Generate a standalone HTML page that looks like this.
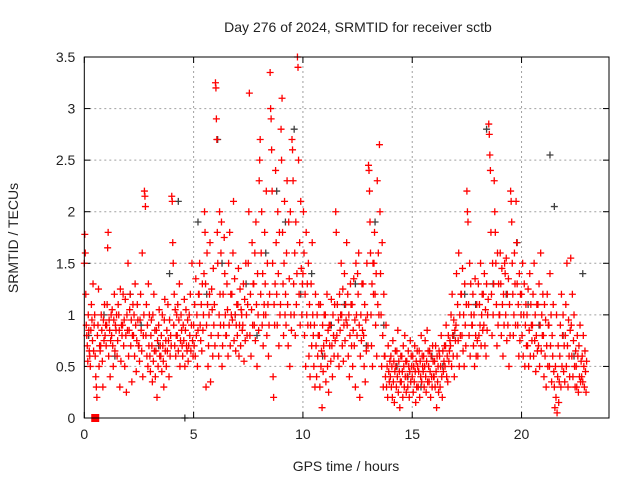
<!DOCTYPE html>
<html><head><meta charset="utf-8"><style>
body{margin:0;background:#fff;font-family:"Liberation Sans",sans-serif}
svg{display:block}
text{font-family:"Liberation Sans",sans-serif;font-size:14px;fill:#222}
</style></head><body>
<svg id="c" width="640" height="480"></svg>
<script>
const xTicks=[0,5,10,15,20];
const yTicks=[0,0.5,1,1.5,2,2.5,3,3.5];
const yTickLabels=["0","0.5","1","1.5","2","2.5","3","3.5"];
const redBinStart=[0,0.25,0.5,0.75,1,1.25,1.5,1.75,2,2.25,2.5,2.75,3,3.25,3.5,3.75,4,4.25,4.5,4.75,5,5.25,5.5,5.75,6,6.25,6.5,6.75,7,7.25,7.5,7.75,8,8.25,8.5,8.75,9,9.25,9.5,9.75,10,10.25,10.5,10.75,11,11.25,11.5,11.75,12,12.25,12.5,12.75,13,13.25,13.5,13.75,14,14.25,14.5,14.75,15,15.25,15.5,15.75,16,16.25,16.5,16.75,17,17.25,17.5,17.75,18,18.25,18.5,18.75,19,19.25,19.5,19.75,20,20.25,20.5,20.75,21,21.25,21.5,21.75,22,22.25,22.5,22.75];
const redValues=[
[1.5,1.78,1.6,1.2,0.9,0.8,0.7,0.55,1.0,0.85,0.65],
[0.6,0.5,0.85,1.1,0.95,0.75,1.3,0.65,0.9,1.0],
[0.6,0.4,0.3,0.2,0.8,0.9,1.25,0.5,0.7,0.65],
[0.7,1.0,0.85,0.55,0.3,0.95,0.75,1.1,0.8,0.9],
[0.7,0.9,1.1,1.65,1.8,0.6,0.95,0.85,0.4,0.75,1.0],
[0.8,1.05,0.7,0.5,0.95,1.2,0.65,0.9,0.85,1.0],
[0.6,0.75,1.1,1.0,0.85,0.3,1.25,0.55,0.9,0.8],
[0.9,1.2,0.7,0.95,0.5,1.15,0.8,0.25,1.0,0.85],
[1.5,0.6,0.85,1.05,1.2,0.7,0.95,0.35,0.8,1.1],
[0.8,1.0,0.6,1.3,0.9,0.45,0.75,1.1,0.95,0.7],
[0.7,0.55,0.95,1.2,0.85,0.65,1.6,0.4,0.8,1.0],
[2.2,2.15,2.05,0.8,1.1,0.6,0.9,0.5,1.3,0.7,1.0],
[0.6,0.45,0.8,0.95,0.7,0.35,1.0,0.55,1.2,0.65,0.85],
[0.4,0.65,0.85,0.2,0.75,0.5,0.9,1.05,0.6,0.7],
[0.6,0.8,0.45,1.0,0.7,0.55,0.3,0.95,1.15,0.65,0.75],
[0.5,0.85,0.65,1.1,0.75,0.4,0.95,0.6,0.8,0.7],
[2.15,2.1,1.7,1.5,0.9,1.2,0.7,1.05,0.6,0.8,1.0],
[0.8,1.1,0.65,0.95,1.3,0.5,0.75,1.0,0.85,0.7],
[0.6,0.9,0.75,1.15,0.5,0.85,1.05,0.7,0.65,0.95],
[0.55,0.7,1.0,0.8,1.2,0.65,0.9,1.5,0.75,0.6],
[0.9,0.7,1.1,0.6,1.35,0.8,1.0,0.5,0.85,1.2],
[1.2,1.5,0.9,0.75,1.1,0.65,1.3,0.85,1.0,1.4],
[2.0,1.8,1.3,0.3,0.9,1.6,1.1,0.5,0.7,1.0,1.2],
[1.7,0.35,0.8,1.25,1.05,0.6,1.45,0.9,1.1,0.7],
[3.25,3.2,2.9,2.7,1.8,1.5,0.8,0.6,1.0,2.0,1.2,0.9],
[1.6,1.9,0.5,0.7,1.2,0.9,1.75,1.4,1.0,0.8],
[0.8,1.3,1.05,0.6,1.5,0.9,1.8,0.7,1.2,1.0],
[1.2,0.95,1.6,2.1,0.75,1.35,1.0,0.65,0.9,1.1],
[0.8,1.1,1.45,0.6,0.9,1.25,0.7,1.05,1.0,0.85],
[0.9,1.3,0.55,1.15,0.75,1.5,1.0,0.8,1.1],
[1.5,2.0,3.15,0.8,1.2,0.6,1.05,1.7,0.9,1.3],
[1.3,0.9,1.6,0.75,1.9,1.1,0.5,1.4,1.0,0.85],
[2.3,2.5,2.7,1.2,1.6,2.0,0.9,1.4,0.7,1.0,1.1],
[1.8,1.3,1.0,2.2,0.8,1.5,1.1,0.6,0.9,1.2],
[3.35,3.0,2.9,2.6,2.2,1.5,0.4,0.2,1.1,0.9,1.3],
[2.4,1.7,1.2,0.9,2.0,1.4,0.7,1.8,1.0,1.1],
[2.8,2.5,3.1,1.8,1.3,0.8,1.5,2.1,1.0,1.2,0.9],
[1.6,2.3,1.1,0.7,1.9,1.35,0.5,2.0,1.0,0.85],
[2.7,2.6,2.3,1.3,1.0,1.6,0.8,1.9,1.1,1.4],
[3.5,3.4,2.5,1.2,1.7,0.9,2.1,1.45,1.0,1.3],
[1.4,2.0,1.6,0.8,1.2,0.5,1.8,1.0,1.3,0.9],
[1.5,0.6,1.1,0.4,0.9,1.3,0.7,1.7,1.0,0.8],
[0.5,0.9,0.3,1.2,0.7,0.4,1.0,0.6,0.8,1.1],
[0.8,0.3,1.1,0.5,0.65,0.1,0.9,0.45,0.7,1.0],
[0.6,1.0,0.35,0.75,1.2,0.5,0.85,0.25,0.9,0.7],
[0.9,0.55,1.15,0.7,0.4,1.0,0.8,0.6,1.1,0.75],
[2.0,1.8,0.8,1.1,0.6,0.95,0.5,1.2,0.85,1.0],
[1.5,1.0,0.7,1.25,0.55,0.9,1.4,0.75,1.1,0.95],
[1.7,0.9,1.2,0.6,1.0,0.4,0.8,1.3,1.1,0.7],
[1.1,0.5,0.85,1.35,0.7,0.95,0.3,1.5,1.0,0.8],
[1.4,1.2,1.6,0.9,0.2,0.6,1.0,0.75,1.3,0.85],
[1.3,0.8,0.5,1.1,0.35,0.95,0.65,1.5,1.0,0.7],
[2.45,2.4,2.2,1.9,1.6,1.0,0.7,1.3,0.5,1.5,1.2],
[1.5,1.8,1.2,0.9,1.4,0.6,2.3,1.1,1.6,1.0],
[2.65,2.0,1.4,1.0,0.5,1.7,0.8,0.3,1.2,0.6],
[0.6,0.4,0.9,0.3,0.5,0.2,0.7,0.45,0.35,0.55],
[0.4,0.6,0.3,0.5,0.2,0.75,0.35,0.55,0.15,0.45,0.65],
[0.5,0.3,0.65,0.4,0.85,0.25,0.55,0.45,0.1,0.35,0.6],
[0.35,0.6,0.45,0.2,0.7,0.5,0.3,0.8,0.4,0.55,0.25],
[0.55,0.4,0.3,0.65,0.5,0.2,0.45,0.75,0.35,0.6,0.5],
[0.4,0.6,0.25,0.5,0.35,0.7,0.45,0.15,0.55,0.3,0.65],
[0.5,0.3,0.45,0.65,0.2,0.55,0.4,0.8,0.35,0.6,0.5],
[0.45,0.6,0.3,0.5,0.75,0.4,0.25,0.55,0.85,0.35,0.65],
[0.5,0.35,0.65,0.45,0.2,0.6,0.4,0.3,0.7,0.55,0.4],
[0.4,0.55,0.3,0.7,0.45,0.1,0.6,0.35,0.5,0.25,0.65],
[0.6,0.3,0.5,0.8,0.4,0.2,0.65,0.45,0.55,0.7],
[0.5,0.7,0.9,0.4,0.6,0.35,0.8,0.55,0.65,0.75],
[0.7,1.0,0.5,1.2,0.8,0.6,0.95,0.4,0.85,0.75],
[0.9,1.4,0.6,1.1,0.75,1.6,0.5,1.0,0.8,1.2],
[1.2,0.8,1.45,0.65,1.0,0.5,1.3,0.9,0.7,1.1],
[2.2,2.0,1.9,1.1,0.8,1.5,0.6,1.3,1.0,0.9],
[0.9,1.2,0.7,1.0,0.5,1.35,0.8,0.6,1.1,0.75],
[0.6,1.3,0.8,1.1,0.9,1.5,0.7,1.0,1.2,0.85],
[1.2,0.9,1.4,0.7,1.05,0.6,1.3,0.85,1.0,1.15],
[2.85,2.75,2.55,2.4,1.8,1.2,0.8,1.5,1.0,1.3],
[2.3,2.0,1.8,1.5,1.1,0.7,1.6,0.9,1.3,1.0],
[1.0,1.6,1.3,0.8,1.45,1.1,0.6,1.2,0.9,1.5],
[1.4,1.0,1.55,0.75,1.2,0.9,1.35,0.5,1.1,0.8],
[2.2,2.1,1.9,1.5,1.2,0.8,1.0,1.6,1.3,0.9],
[2.1,1.7,1.3,0.9,1.1,0.6,1.4,0.75,1.2,1.0],
[1.2,0.8,1.5,0.6,1.0,1.3,0.5,0.9,1.1,0.7],
[1.0,0.7,1.25,0.5,0.85,1.4,0.6,1.1,0.9,0.75],
[0.9,1.2,0.6,1.5,0.75,1.0,0.45,0.8,1.1,0.65],
[1.1,0.7,1.3,0.5,0.9,1.6,0.65,1.0,0.8,1.2],
[0.8,0.4,1.1,0.6,0.95,0.3,0.7,1.2,0.5,0.9],
[0.9,0.5,1.4,0.7,1.0,0.35,0.8,0.6,1.1,0.45],
[0.3,0.1,0.5,0.2,1.0,0.05,0.4,0.7,0.15,0.35],
[0.6,0.9,0.3,1.2,0.5,0.8,1.0,0.45,0.7,0.35],
[0.8,1.1,0.5,1.5,0.7,0.3,0.95,0.6,0.4,0.85],
[1.55,0.9,0.6,1.2,0.4,0.75,1.0,0.5,0.3,0.65],
[0.5,0.3,0.8,0.6,0.25,0.7,0.4,0.9,0.35,0.55],
[0.4,0.6,0.35,0.8,0.5,0.3,0.65,0.45,0.25,0.55]
];
const grayTimes=[0.2,0.9,1.4,2.1,2.6,3.4,3.9,4.3,4.6,5.2,5.6,6.1,6.3,6.9,7.4,7.9,8.3,8.8,9.2,9.6,9.9,10.4,10.9,11.3,11.9,12.4,12.9,13.3,13.7,14.3,14.8,15.4,15.9,16.4,16.9,17.4,17.9,18.4,18.7,19.3,19.8,20.3,20.8,21.3,21.5,21.9,22.4,22.8];
const grayValues=[0.8,1.0,0.6,1.2,0.9,0.7,1.4,2.1,0,1.9,1.2,2.7,1.5,1.0,1.3,0.8,1.6,2.2,1.9,2.8,1.2,1.4,0.6,0.9,1.1,1.3,0.7,1.9,0.9,0.5,0.4,0.3,0.6,0.5,0.8,1.2,1.1,2.8,1.3,1.2,1.7,1.1,0.9,2.55,2.05,0.8,0.6,1.4];
const X0=84.3,X1=609,Y0=418,Y1=57,XMAX=24,YMAX=3.5;
const sx=v=>X0+(X1-X0)*v/XMAX, sy=v=>Y0-(Y0-Y1)*v/YMAX;
const svg=document.getElementById('c');const NS='http://www.w3.org/2000/svg';
function mk(t,a,p){const e=document.createElementNS(NS,t);for(const k in a)e.setAttribute(k,a[k]);(p||svg).appendChild(e);return e;}
const grid=mk('g',{});


xTicks.forEach(v=>{if(v>0)mk('line',{x1:sx(v),x2:sx(v),y1:Y0,y2:Y1,stroke:'#a0a0a0','stroke-dasharray':'2,3'},grid);
const t=mk('text',{x:sx(v),y:Y0+21,'text-anchor':'middle'});t.textContent=v;


mk('line',{x1:sx(v),x2:sx(v),y1:Y0,y2:Y0-6,stroke:'#000'});mk('line',{x1:sx(v),x2:sx(v),y1:Y1,y2:Y1+6,stroke:'#000'});});
yTicks.forEach((v,i)=>{if(v>0&&v<YMAX)mk('line',{x1:X0,x2:X1,y1:sy(v),y2:sy(v),stroke:'#a0a0a0','stroke-dasharray':'2,3'},grid);
const t=mk('text',{x:X0-9,y:sy(v)+5,'text-anchor':'end'});t.textContent=yTickLabels[i];


mk('line',{x1:X0,x2:X0+6,y1:sy(v),y2:sy(v),stroke:'#000'});mk('line',{x1:X1,x2:X1-6,y1:sy(v),y2:sy(v),stroke:'#000'});});
function plus(x,y,c,g){mk('path',{d:`M${x-3.5},${y}h7M${x},${y-3.5}v7`,stroke:c,'stroke-width':1.3},g);}
const gg=mk('g',{});


grayTimes.forEach((t,i)=>plus(sx(t),sy(grayValues[i]),'#404040',gg));
const rg=mk('g',{});


redBinStart.forEach((t,b)=>{const vs=redValues[b];vs.forEach((v,i)=>plus(sx(t+0.25*i/vs.length),sy(v),'#ff0000',rg));});
const sq=mk('rect',{x:sx(0.5)-4,y:Y0-4,width:8,height:8,fill:'#ff0000'});


const bd=mk('rect',{x:X0,y:Y1,width:X1-X0,height:Y0-Y1,fill:'none',stroke:'#000'});


const ti=mk('text',{x:358,y:32,'text-anchor':'middle'});ti.textContent='Day 276 of 2024, SRMTID for receiver sctb';


const xl=mk('text',{x:346,y:471,'text-anchor':'middle'});xl.textContent='GPS time / hours';


const yl=mk('text',{x:18,y:238,'text-anchor':'middle',transform:'rotate(-90 18 238)'});yl.textContent='SRMTID / TECUs';


</script>
</body></html>
